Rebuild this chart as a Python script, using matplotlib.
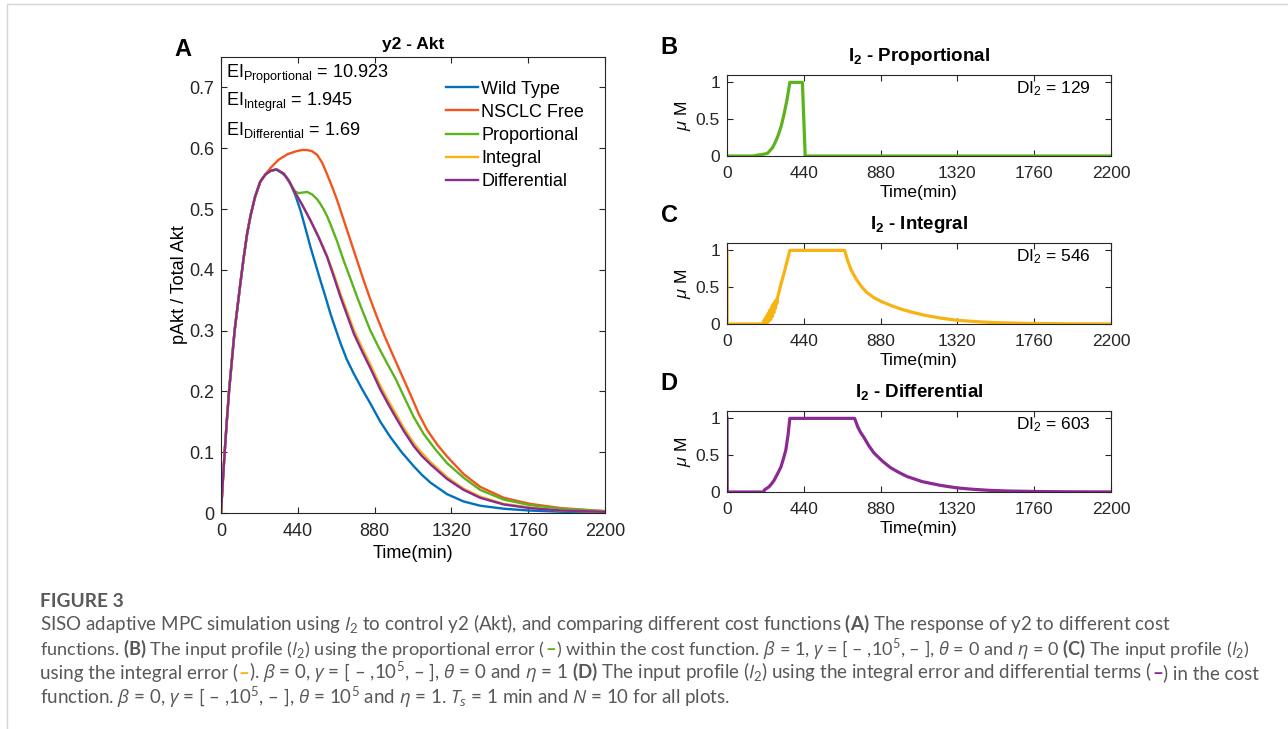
import numpy as np
import matplotlib
matplotlib.use('Agg')
import matplotlib.pyplot as plt
from matplotlib.lines import Line2D

plt.rcParams['font.family'] = ['Liberation Sans', 'DejaVu Sans']
plt.rcParams['mathtext.fontset'] = 'custom'
plt.rcParams['mathtext.rm'] = 'Lato'
plt.rcParams['mathtext.it'] = 'Open Sans:italic'
plt.rcParams['mathtext.bf'] = 'Lato:bold'

W, H = 1288, 729

# ---- panel A data ----
rise_t = [0, 10, 21, 33, 46, 62, 78, 95, 112, 130, 150, 170, 195, 225, 255]
rise_v = [0, 0.05, 0.10, 0.15, 0.20, 0.25, 0.30, 0.34, 0.38, 0.42, 0.46, 0.49, 0.52, 0.545, 0.557]

wt_t = [285, 315, 350, 375, 399, 428, 456, 485, 513, 542, 570, 599, 627, 656, 685, 720, 761,
        808, 856, 913, 970, 1035, 1104, 1150, 1200, 1250, 1295, 1390, 1485, 1620, 1771, 1950, 2200]
wt_v = [0.563, 0.565, 0.559, 0.552, 0.541, 0.521, 0.497, 0.467, 0.437, 0.409, 0.382, 0.355,
        0.328, 0.303, 0.279, 0.253, 0.229, 0.204, 0.180, 0.150, 0.125, 0.100, 0.077, 0.063,
        0.050, 0.040, 0.031, 0.019, 0.012, 0.007, 0.004, 0.002, 0.001]

free_t = [285, 330, 380, 430, 465, 494, 522, 551, 580, 608, 636, 666, 704, 742, 780, 818, 856,
          894, 940, 989, 1037, 1085, 1133, 1180, 1240, 1295, 1390, 1485, 1620, 1771, 1950, 2200]
free_v = [0.568, 0.581, 0.590, 0.595, 0.597, 0.597, 0.595, 0.589, 0.576, 0.557, 0.537, 0.514,
          0.481, 0.448, 0.415, 0.382, 0.351, 0.322, 0.289, 0.257, 0.226, 0.195, 0.163, 0.137,
          0.112, 0.093, 0.064, 0.043, 0.025, 0.015, 0.008, 0.003]

prop_t = [285, 319, 360, 400, 425, 445, 465, 494, 522, 551, 570, 589, 608, 627, 665, 703, 742,
          780, 818, 856, 904, 952, 1000, 1047, 1104, 1161, 1230, 1295, 1390, 1485, 1620, 1771,
          1950, 2200]
prop_v = [0.563, 0.565, 0.558, 0.540, 0.529, 0.526, 0.527, 0.528, 0.524, 0.516, 0.508, 0.499,
          0.488, 0.475, 0.447, 0.415, 0.385, 0.355, 0.327, 0.300, 0.272, 0.246, 0.221, 0.192,
          0.158, 0.130, 0.104, 0.082, 0.058, 0.038, 0.022, 0.013, 0.007, 0.003]

int_t = [285, 319, 360, 390, 418, 465, 513, 560, 608, 646, 685, 723, 761, 808, 856, 913, 960,
         1000, 1047, 1104, 1150, 1200, 1295, 1390, 1485, 1620, 1771, 1950, 2200]
int_v = [0.563, 0.565, 0.558, 0.546, 0.530, 0.507, 0.481, 0.454, 0.423, 0.393, 0.360, 0.331,
         0.301, 0.272, 0.244, 0.209, 0.184, 0.164, 0.140, 0.115, 0.099, 0.084, 0.059, 0.040,
         0.027, 0.015, 0.009, 0.004, 0.002]

diff_t = [285, 319, 360, 390, 418, 465, 513, 560, 608, 646, 685, 723, 761, 808, 856, 913, 960,
          1000, 1047, 1104, 1150, 1200, 1295, 1390, 1485, 1620, 1771, 1950, 2200]
diff_v = [0.563, 0.565, 0.558, 0.546, 0.530, 0.507, 0.481, 0.453, 0.421, 0.389, 0.355, 0.325,
          0.295, 0.266, 0.238, 0.203, 0.178, 0.158, 0.135, 0.110, 0.094, 0.080, 0.056, 0.038,
          0.025, 0.014, 0.008, 0.004, 0.002]

labels_a = ['Wild Type', 'NSCLC Free', 'Proportional', 'Integral', 'Differential']
colors = {'Wild Type': '#0072BD', 'NSCLC Free': '#F2561D', 'Proportional': '#5BB31E',
          'Integral': '#F7B213', 'Differential': '#8B2A93'}
ei_values = [('Proportional', '10.923'), ('Integral', '1.945'), ('Differential', '1.69')]

# ---- panels B-D: input profiles I2 ----
b_t = [0, 150, 170, 200, 232, 260, 275, 290, 310, 328, 345, 360, 432, 448, 2200]
b_v = [0, 0, 0.01, 0.02, 0.036, 0.11, 0.18, 0.26, 0.40, 0.58, 0.78, 1, 1, 0, 0]

c_t = [0, 1, 205, 210, 214, 219, 223, 228, 232, 237, 241, 246, 250, 255, 259, 264, 268, 273,
       277, 282, 286, 290, 310, 330, 345, 360, 674, 690, 710, 740, 770, 800, 840, 880, 940,
       1000, 1060, 1130, 1223, 1320, 1413, 1500, 1604, 1760, 1950, 2200]
c_v = [1, 0, 0, 0.04, 0.00, 0.08, 0.01, 0.11, 0.02, 0.15, 0.04, 0.19, 0.06, 0.23, 0.10, 0.27,
       0.15, 0.30, 0.21, 0.33, 0.28, 0.36, 0.55, 0.72, 0.86, 1, 1, 0.87, 0.74, 0.61, 0.51, 0.43,
       0.36, 0.31, 0.25, 0.20, 0.16, 0.12, 0.08, 0.05, 0.035, 0.022, 0.014, 0.007, 0.003, 0.001]

d_t = [0, 1, 210, 215, 222, 240, 255, 270, 290, 309, 323, 337, 350, 360, 731, 750, 765, 785,
       812, 842, 890, 937, 985, 1032, 1120, 1223, 1320, 1413, 1500, 1604, 1760, 1950, 2200]
d_v = [1, 0, 0, 0.03, 0.04, 0.07, 0.11, 0.16, 0.25, 0.34, 0.45, 0.57, 0.78, 1, 1, 0.88, 0.81,
       0.74, 0.63, 0.53, 0.42, 0.33, 0.265, 0.21, 0.14, 0.09, 0.055, 0.036, 0.023, 0.014, 0.007,
       0.003, 0.001]

xticks = [0, 440, 880, 1320, 1760, 2200]

fig = plt.figure(figsize=(W / 100, H / 100), dpi=100)


def style_axes(ax, fs):
    ax.set_xlim(0, 2200)
    ax.set_xticks(xticks)
    ax.tick_params(direction='in', top=True, right=True, length=4, width=0.8,
                   labelsize=fs, colors='#262626')
    ax.tick_params(axis='x', pad=7)
    ax.tick_params(axis='y', pad=5)
    for s in ax.spines.values():
        s.set_color('#262626')
        s.set_linewidth(0.8)


def box(l, t, r, b):
    return [l / W, 1 - b / H, (r - l) / W, (b - t) / H]


# panel A
axA = fig.add_axes(box(221, 57, 605, 513))
series_a = [(wt_t, wt_v), (free_t, free_v), (prop_t, prop_v), (int_t, int_v), (diff_t, diff_v)]
for name, (tt, vv) in zip(labels_a, series_a):
    axA.plot(rise_t + tt, rise_v + vv, color=colors[name], lw=1.7, label=name)
style_axes(axA, 13)
axA.set_ylim(0, 0.75)
axA.set_yticks([0, 0.1, 0.2, 0.3, 0.4, 0.5, 0.6, 0.7])
axA.set_yticklabels(['0', '0.1', '0.2', '0.3', '0.4', '0.5', '0.6', '0.7'])
axA.set_xlabel('Time(min)', fontsize=13, labelpad=4)
axA.set_ylabel('pAkt / Total Akt', fontsize=13, labelpad=1)
axA.set_title('y2 - Akt', fontsize=12.5, fontweight='bold', pad=6)
axA.legend(loc='upper left', bbox_to_anchor=(0.563, 0.968), frameon=False, fontsize=13,
           handlelength=1.75, handletextpad=0.2, labelspacing=0.34, borderpad=0)
for i, (nm, val) in enumerate(ei_values):
    axA.text(0.012, 0.955 - i * 0.0625, r'$\mathregular{EI_{%s}}$ = %s' % (nm, val),
             transform=axA.transAxes, fontsize=13, va='baseline', ha='left')
fig.text(183 / W, 1 - 50 / H, 'A', fontsize=17, fontweight='bold', ha='center', va='center')

# panels B-D
small = [
    ('B', 'Proportional', b_t, b_v, colors['Proportional'], '129', 75, 156),
    ('C', 'Integral', c_t, c_v, colors['Integral'], '546', 243, 324),
    ('D', 'Differential', d_t, d_v, colors['Differential'], '603', 411, 492),
]
for letter, name, tt, vv, col, di, top, bot in small:
    ax = fig.add_axes(box(727, top, 1111, bot))
    ax.plot(tt, vv, color=col, lw=2.3)
    style_axes(ax, 12.5)
    ax.set_ylim(0, 1.1)
    ax.set_yticks([0, 0.5, 1])
    ax.set_yticklabels(['0', '0.5', '1'])
    ax.set_xlabel('Time(min)', fontsize=12.5, labelpad=3)
    ax.set_ylabel(r'$\mu$ M', fontsize=12.5, labelpad=2)
    ax.set_title(r'$\mathregular{I_2}$ - %s' % name, fontsize=13.5, fontweight='bold', pad=10)
    ax.text(0.948, 0.78, r'$\mathregular{DI_2}$ = %s' % di, transform=ax.transAxes,
            fontsize=12.5, ha='right', va='baseline')
    fig.text((727 - 58) / W, 1 - (top - 28) / H, letter, fontsize=17, fontweight='bold',
             ha='center', va='center')

# border of the figure box
fig.add_artist(Line2D([7 / W, 7 / W, 1], [0, 1 - 4 / H, 1 - 4 / H], color='#d6d6d6', lw=1.0,
                      transform=fig.transFigure))

# caption
cap_font = 'Lato'
cap_col = '#585858'
renderer = fig.canvas.get_renderer()


def caption_line(y_px, pieces, fs=13.5):
    x = 40 / W
    for s, c, wt in pieces:
        t = fig.text(x, 1 - y_px / H, s, color=c, fontsize=fs, family=cap_font,
                     fontweight=wt, va='baseline', ha='left')
        x += t.get_window_extent(renderer).width / W


fig.text(40 / W, 1 - 607 / H, 'FIGURE 3', color='#5a5a5a', fontsize=13.8, family=cap_font,
         fontweight='bold', va='baseline')
caption_line(630, [(r'SISO adaptive MPC simulation using $I_2$ to control y2 (Akt), and comparing '
                    r'different cost functions $\mathbf{(A)}$ The response of y2 to different cost',
                    cap_col, 'normal')])
caption_line(655, [(r'functions. $\mathbf{(B)}$ The input profile ($I_2$) using the proportional error (',
                    cap_col, 'normal'),
                   ('–', colors['Proportional'], 'bold'),
                   (r') within the cost function. $\beta$ = 1, $\gamma$ = [ – ,10$^5$, – ], $\theta$ = 0 '
                    r'and $\eta$ = 0 $\mathbf{(C)}$ The input profile ($I_2$)', cap_col, 'normal')],
             fs=13.05)
caption_line(679, [('using the integral error (', cap_col, 'normal'),
                   ('–', colors['Integral'], 'bold'),
                   (r'). $\beta$ = 0, $\gamma$ = [ – ,10$^5$, – ], $\theta$ = 0 and $\eta$ = 1 '
                    r'$\mathbf{(D)}$ The input profile ($I_2$) using the integral error and '
                    r'differential terms (', cap_col, 'normal'),
                   ('–', colors['Differential'], 'bold'),
                   (') in the cost', cap_col, 'normal')])
caption_line(704, [(r'function. $\beta$ = 0, $\gamma$ = [ – ,10$^5$, – ], $\theta$ = 10$^5$ and '
                    r'$\eta$ = 1. $T_s$ = 1 min and $N$ = 10 for all plots.', cap_col, 'normal')])

fig.savefig('out.png', dpi=100)
